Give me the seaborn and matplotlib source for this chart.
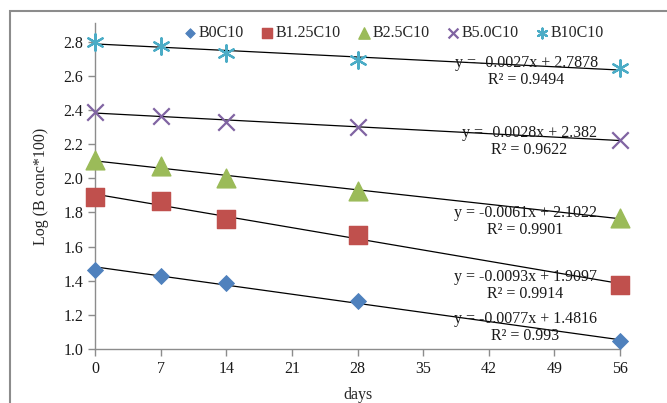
import pandas as pd
import seaborn as sns
import matplotlib.pyplot as plt
from matplotlib.patches import Rectangle
from matplotlib.ticker import FormatStrFormatter

# values
DAYS = [0, 7, 14, 28, 56]
SERIES = ["B0C10", "B1.25C10", "B2.5C10", "B5.0C10", "B10C10"]
B0C10 = [1.465, 1.43, 1.385, 1.28, 1.045]
B125C10 = [1.89, 1.865, 1.76, 1.665, 1.375]
B25C10 = [2.11, 2.07, 2.00, 1.925, 1.77]
B50C10 = [2.39, 2.365, 2.33, 2.30, 2.225]
B10C10 = [2.80, 2.775, 2.735, 2.695, 2.645]
EQUATIONS = [
    "y = -0.0077x + 1.4816",
    "y = -0.0093x + 1.9097",
    "y = -0.0061x + 2.1022",
    "y = -0.0028x + 2.382",
    "y = -0.0027x + 2.7878",
]
R2 = ["R² = 0.993", "R² = 0.9914", "R² = 0.9901", "R² = 0.9622", "R² = 0.9494"]

# styling per series: colour, marker, size
STYLE = {
    "B0C10": ("#4F81BD", "D", 66),
    "B1.25C10": ("#C0504D", "s", 170),
    "B2.5C10": ("#9BBB59", "^", 180),
    "B5.0C10": ("#8064A2", "x", 140),
    "B10C10": ("#4BACC6", (6, 2, 0), 140),
}
# where the equation blocks sit (data coords)
LABEL_POS = [(45.9, 1.126), (45.9, 1.371), (45.9, 1.748), (46.3, 2.216), (46.0, 2.625)]

df = pd.DataFrame({
    "days": DAYS * len(SERIES),
    "logc": B0C10 + B125C10 + B25C10 + B50C10 + B10C10,
    "series": [s for s in SERIES for _ in DAYS],
})

sns.set_style("ticks")
plt.rcParams["font.family"] = ["Liberation Serif", "DejaVu Serif"]
plt.rcParams["font.size"] = 11.5

fig = plt.figure(figsize=(6.67, 4.03), dpi=100)
ax = fig.add_axes([95 / 667, 54 / 403, 525 / 667, 326 / 403])

for name in SERIES:
    sub = df[df["series"] == name]
    color, marker, size = STYLE[name]
    sns.regplot(data=sub, x="days", y="logc", ci=None, scatter=False, ax=ax,
                line_kws={"color": "black", "lw": 0.9, "zorder": 2})
    kws = {"edgecolor": color} if marker in ("D", "s", "^") else {"linewidth": 1.6}
    sns.scatterplot(data=sub, x="days", y="logc", marker=marker, color=color,
                    s=size, ax=ax, label=name, zorder=3, clip_on=False, **kws)

for (lx, ly), eq, r2 in zip(LABEL_POS, EQUATIONS, R2):
    ax.text(lx, ly, f"{eq}\n{r2}", ha="center", va="center", multialignment="center",
            fontsize=11.5, linespacing=1.05, color="#1a1a1a", zorder=4)

ax.set_xlim(0, 56)
ax.set_ylim(1.0, 2.91)
ax.set_xticks(range(0, 57, 7))
ax.set_yticks([1.0, 1.2, 1.4, 1.6, 1.8, 2.0, 2.2, 2.4, 2.6, 2.8])
ax.yaxis.set_major_formatter(FormatStrFormatter("%.1f"))
ax.set_xlabel("days", fontsize=11.5, labelpad=7)
ax.set_ylabel("Log (B conc*100)", fontsize=11.5, labelpad=10)

sns.despine(ax=ax)
for sp in ("left", "bottom"):
    ax.spines[sp].set_color("#8c8c8c")
    ax.spines[sp].set_linewidth(1.0)
ax.tick_params(axis="both", direction="out", length=5, width=1.0, color="#8c8c8c",
               labelsize=11.5, labelcolor="#1a1a1a")

ax.legend(loc="center", bbox_to_anchor=(0.57, 0.969), ncol=5, frameon=False,
          markerscale=0.6, handlelength=0.7, handletextpad=0.2, columnspacing=1.1,
          fontsize=11.5, borderaxespad=0)

# outer chart-area border (cropped at right and bottom)
fig.patches.append(Rectangle((10 / 667, -0.2), 1.5, (403 - 11) / 403 + 0.2,
                             transform=fig.transFigure, fill=False,
                             edgecolor="#8c8c8c", lw=1.5, clip_on=False))

fig.savefig("out.png", dpi=100)
